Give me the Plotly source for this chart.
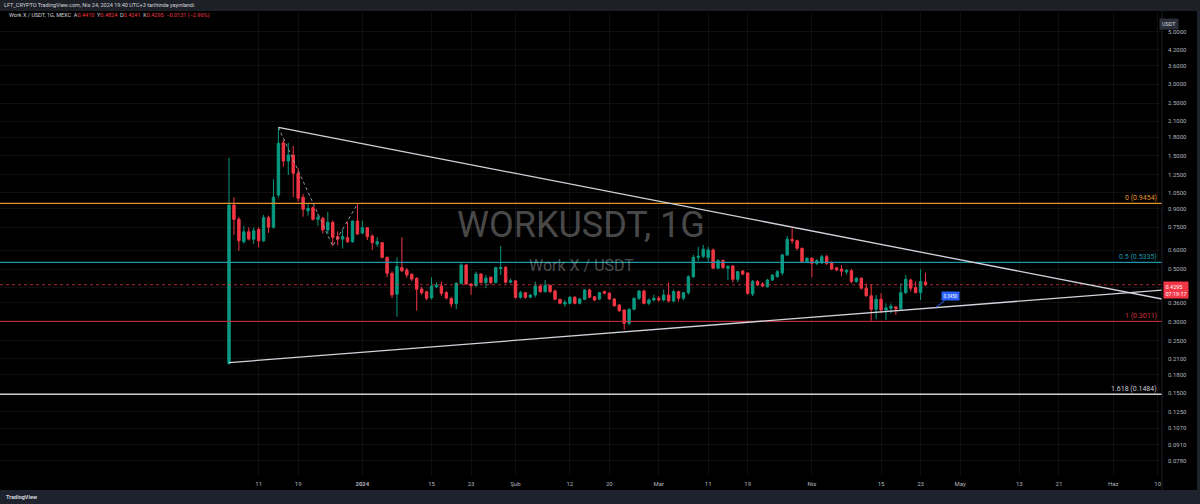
import numpy as np
import pandas as pd
import plotly.graph_objects as go

# ---------------- data ----------------
dates = pd.date_range("2023-12-05", "2024-04-24", freq="D")

opens = [0.200, 0.931, 0.810, 0.652, 0.718, 0.667, 0.735, 0.658, 0.823, 0.750,
         1.025, 1.700, 1.426, 1.512, 1.266, 1.003, 0.880, 0.907, 0.810, 0.818,
         0.730, 0.787, 0.685, 0.669, 0.678, 0.652, 0.797, 0.710, 0.747, 0.689,
         0.637, 0.646, 0.560, 0.480, 0.392,
         0.507, 0.4955, 0.475, 0.457, 0.412, 0.401, 0.378, 0.421, 0.4243, 0.398,
         0.3766, 0.358, 0.4355, 0.520, 0.4325, 0.4255, 0.4765, 0.4384, 0.462, 0.4384,
         0.502, 0.508, 0.4402, 0.446, 0.3802, 0.3977, 0.3802, 0.3888, 0.4243, 0.4017,
         0.4272, 0.404, 0.3729, 0.3563, 0.3587, 0.3802, 0.3587, 0.3729, 0.408, 0.3823,
         0.374, 0.4017, 0.3955, 0.374, 0.3529, 0.3362, 0.2953, 0.3385, 0.3766, 0.404,
         0.3587, 0.3704, 0.3766, 0.3704, 0.3888, 0.3668, 0.4017, 0.3766, 0.3977, 0.4643,
         0.560, 0.566, 0.560, 0.602, 0.504, 0.5425, 0.504, 0.515, 0.4527, 0.4908,
         0.4811, 0.3925, 0.443, 0.4326, 0.4214, 0.4497, 0.4643, 0.4818, 0.573, 0.6675,
         0.6585, 0.6115, 0.5375, 0.555, 0.5285, 0.5315, 0.5635, 0.5315, 0.5065, 0.500,
         0.486, 0.4918, 0.443, 0.4575, 0.4155, 0.386, 0.3385, 0.3729, 0.3362, 0.3419,
         0.3463, 0.340, 0.3977, 0.4497, 0.4175, 0.3977, 0.4410]

highs = [1.470, 1.003, 0.830, 0.759, 0.750, 0.750, 0.750, 0.845, 0.840, 1.194,
         1.977, 1.750, 1.700, 1.650, 1.330, 1.035, 0.940, 0.920, 0.858, 0.830,
         0.872, 0.800, 0.720, 0.735, 0.790, 0.800, 0.940, 0.800, 0.750, 0.700,
         0.680, 0.650, 0.565, 0.490, 0.560,
         0.680, 0.505, 0.480, 0.462, 0.420, 0.405, 0.4616, 0.440, 0.443, 0.403,
         0.380, 0.440, 0.529, 0.525, 0.435, 0.488, 0.480, 0.472, 0.465, 0.512,
         0.625, 0.515, 0.455, 0.450, 0.405, 0.400, 0.392, 0.443, 0.430, 0.4497,
         0.430, 0.410, 0.375, 0.3704, 0.385, 0.385, 0.378, 0.412, 0.413, 0.385,
         0.400, 0.406, 0.400, 0.377, 0.356, 0.338, 0.342, 0.380, 0.408, 0.410,
         0.376, 0.390, 0.385, 0.410, 0.440, 0.410, 0.405, 0.400, 0.470, 0.575,
         0.620, 0.632, 0.620, 0.610, 0.550, 0.550, 0.520, 0.520, 0.490, 0.495,
         0.485, 0.450, 0.450, 0.440, 0.455, 0.475, 0.495, 0.580, 0.690, 0.742,
         0.665, 0.615, 0.560, 0.560, 0.550, 0.575, 0.575, 0.540, 0.510, 0.520,
         0.500, 0.500, 0.462, 0.460, 0.435, 0.4326, 0.3888, 0.3955, 0.358, 0.358,
         0.350, 0.4355, 0.472, 0.455, 0.443, 0.4985, 0.4824]

lows = [0.198, 0.696, 0.598, 0.640, 0.660, 0.638, 0.617, 0.650, 0.710, 0.740,
        1.000, 1.350, 1.245, 1.003, 0.960, 0.831, 0.840, 0.800, 0.760, 0.707,
        0.700, 0.625, 0.630, 0.610, 0.645, 0.645, 0.700, 0.700, 0.662, 0.601,
        0.620, 0.555, 0.462, 0.377, 0.315,
        0.485, 0.460, 0.445, 0.334, 0.390, 0.370, 0.372, 0.415, 0.385, 0.372,
        0.345, 0.339, 0.430, 0.4284, 0.389, 0.4214, 0.435, 0.415, 0.430, 0.435,
        0.472, 0.435, 0.435, 0.375, 0.375, 0.375, 0.377, 0.380, 0.398, 0.398,
        0.397, 0.370, 0.355, 0.347, 0.355, 0.355, 0.355, 0.370, 0.377, 0.366,
        0.370, 0.392, 0.370, 0.347, 0.330, 0.2769, 0.290, 0.335, 0.370, 0.355,
        0.352, 0.365, 0.365, 0.365, 0.362, 0.362, 0.365, 0.370, 0.390, 0.458,
        0.540, 0.555, 0.537, 0.500, 0.500, 0.500, 0.450, 0.440, 0.440, 0.470,
        0.390, 0.385, 0.425, 0.420, 0.418, 0.445, 0.460, 0.470, 0.570, 0.640,
        0.600, 0.530, 0.530, 0.462, 0.520, 0.525, 0.520, 0.495, 0.490, 0.467,
        0.475, 0.435, 0.438, 0.410, 0.382, 0.3029, 0.3072, 0.326, 0.3051, 0.326,
        0.3202, 0.335, 0.393, 0.4017, 0.3955, 0.3704, 0.4241]

closes = [0.931, 0.810, 0.658, 0.718, 0.669, 0.725, 0.658, 0.823, 0.750, 1.003,
          1.693, 1.426, 1.512, 1.266, 0.993, 0.893, 0.900, 0.810, 0.826, 0.730,
          0.787, 0.680, 0.669, 0.685, 0.652, 0.797, 0.702, 0.747, 0.684, 0.646,
          0.652, 0.560, 0.480, 0.389, 0.512,
          0.492, 0.472, 0.454, 0.411, 0.397, 0.3766, 0.4245, 0.4284, 0.3951, 0.3775,
          0.3563, 0.4355, 0.520, 0.4325, 0.4255, 0.4765, 0.4384, 0.4575, 0.4384, 0.507,
          0.508, 0.4402, 0.446, 0.3802, 0.3977, 0.3802, 0.3888, 0.4243, 0.4017, 0.4272,
          0.4017, 0.3729, 0.3587, 0.3624, 0.3802, 0.3587, 0.374, 0.408, 0.3802, 0.3704,
          0.3977, 0.3955, 0.374, 0.3505, 0.3341, 0.2953, 0.3385, 0.3766, 0.404, 0.3587,
          0.3704, 0.3766, 0.3704, 0.3888, 0.3668, 0.4017, 0.3766, 0.3977, 0.4643, 0.560,
          0.566, 0.606, 0.602, 0.504, 0.5425, 0.508, 0.512, 0.4527, 0.4878, 0.4765,
          0.3951, 0.443, 0.4284, 0.4243, 0.4497, 0.472, 0.4878, 0.573, 0.6675, 0.6585,
          0.6115, 0.5375, 0.555, 0.5285, 0.5425, 0.5635, 0.5285, 0.5005, 0.4955, 0.490,
          0.494, 0.443, 0.4575, 0.4155, 0.386, 0.3385, 0.3729, 0.3362, 0.343, 0.3485,
          0.340, 0.3977, 0.4527, 0.4155, 0.3977, 0.443, 0.4295]

# Fibonacci levels
fib_ratios = ["0", "0.5", "1", "1.618"]
fib_prices = [0.9454, 0.5335, 0.3011, 0.1484]
fib_colors = ["#e3952b", "#1b98a8", "#d2323e", "#c9cbd1"]
fib_widths = [1.1, 1.1, 1, 1.6]

# trend lines (extended to the right edge)
upper_x = ["2023-12-15", "2024-06-10 21:00"]
upper_y = [1.977, 0.374]
lower_x = ["2023-12-05", "2024-06-10 21:00"]
lower_y = [0.2017, 0.408]

# dotted zig-zag
zig_x = ["2023-12-15", "2023-12-26", "2023-12-31"]
zig_y = [1.977, 0.625, 0.94]

last_price = 0.4295
marker_label = "0.3450"
marker_x = "2024-04-26 02:00"
marker_y = 0.3450

x_start, x_end = "2023-10-19 15:20", "2024-06-10 21:00"

tick_dates = ["2023-12-11", "2023-12-19", "2024-01-01", "2024-01-15", "2024-01-23",
              "2024-02-01", "2024-02-12", "2024-02-20", "2024-03-01", "2024-03-11",
              "2024-03-19", "2024-04-01", "2024-04-15", "2024-04-23", "2024-05-01",
              "2024-05-13", "2024-05-21", "2024-06-01", "2024-06-10"]
tick_labels = ["11", "19", "<b>2024</b>", "15", "23", "Şub", "12", "20", "Mar", "11",
               "19", "Nis", "15", "23", "May", "13", "21", "Haz", "10"]

price_ticks = [5.0, 4.2, 3.6, 3.0, 2.5, 2.1, 1.8, 1.5, 1.25, 1.05, 0.9, 0.75, 0.6,
               0.5, 0.42, 0.36, 0.3, 0.25, 0.21, 0.18, 0.15, 0.125, 0.107, 0.091, 0.078]
price_labels = ["" if v == 0.42 else f"{v:.4f}" for v in price_ticks]

# ---------------- figure ----------------
W, H = 1200, 504
ML, MR, MT, MB = 0, 38, 12, 28
PW, PH = W - ML - MR, H - MT - MB


def px_x(px):
    return (px - ML) / PW


def px_y(py):
    return (H - MB - py) / PH


FONT = "Roboto"
GRID = "rgba(255,255,255,0.055)"
AXIS_TXT = "#b2b5be"

fig = go.Figure()

for r, p, c, w in zip(fib_ratios, fib_prices, fib_colors, fib_widths):
    fig.add_trace(go.Scatter(x=[x_start, x_end], y=[p, p], mode="lines",
                             line=dict(color=c, width=w), hoverinfo="skip",
                             showlegend=False))

fig.add_trace(go.Scatter(x=[x_start, x_end], y=[last_price, last_price], mode="lines",
                         line=dict(color="rgba(242,54,69,0.7)", width=1, dash="dot"),
                         hoverinfo="skip", showlegend=False))

fig.add_trace(go.Candlestick(
    x=dates, open=opens, high=highs, low=lows, close=closes,
    increasing=dict(line=dict(color="#089981", width=1), fillcolor="#089981"),
    decreasing=dict(line=dict(color="#f23645", width=1), fillcolor="#f23645"),
    whiskerwidth=0, hoverinfo="skip", showlegend=False))

fig.add_trace(go.Scatter(x=upper_x, y=upper_y, mode="lines",
                         line=dict(color="#d1d4dc", width=1.3), hoverinfo="skip",
                         showlegend=False))
fig.add_trace(go.Scatter(x=lower_x, y=lower_y, mode="lines",
                         line=dict(color="#d1d4dc", width=1.3), hoverinfo="skip",
                         showlegend=False))
fig.add_trace(go.Scatter(x=zig_x, y=zig_y, mode="lines",
                         line=dict(color="#9598a1", width=1, dash="dot"),
                         hoverinfo="skip", showlegend=False))

ann = []
# fib labels
for r, p, c in zip(fib_ratios, fib_prices, fib_colors):
    ann.append(dict(x=px_x(1159), xref="paper", y=np.log10(p), yref="y",
                    text=f"{r} ({p:.4f})", showarrow=False, xanchor="right",
                    yanchor="bottom", yshift=-1,
                    font=dict(family=FONT, size=7, color=c)))

# watermark
ann.append(dict(x=0.5, xref="paper", y=px_y(225), yref="paper", text="WORKUSDT, 1G",
                showarrow=False, font=dict(family=FONT, size=36,
                                           color="rgba(255,255,255,0.30)")))
ann.append(dict(x=0.5, xref="paper", y=px_y(265), yref="paper", text="Work X / USDT",
                showarrow=False, font=dict(family=FONT, size=16,
                                           color="rgba(255,255,255,0.30)")))

# header lines
ann.append(dict(x=px_x(2), xref="paper", y=px_y(5.5), yref="paper", xanchor="left",
                yanchor="middle", showarrow=False,
                text="LFT_CRYPTO TradingView.com, Nis 24, 2024 19:40 UTC+3 tarihinde yayınlandı",
                font=dict(family=FONT, size=5.5, color="#d1d4dc")))
red = "#f23645"
hdr2 = ("Work X / USDT, 1G, MEXC&nbsp;&nbsp;"
        f"A<span style='color:{red}'>0.4410</span>&nbsp;&nbsp;"
        f"Y<span style='color:{red}'>0.4824</span>&nbsp;&nbsp;"
        f"D<span style='color:{red}'>0.4241</span>&nbsp;&nbsp;"
        f"K<span style='color:{red}'>0.4295</span>&nbsp;&nbsp;"
        f"<span style='color:{red}'>−0.0131 (−2.96%)</span>")
ann.append(dict(x=px_x(7), xref="paper", y=px_y(16), yref="paper", xanchor="left",
                yanchor="middle", showarrow=False, text=hdr2,
                font=dict(family=FONT, size=5.5, color="#d1d4dc")))

# USDT box
ann.append(dict(x=px_x(1179), xref="paper", y=px_y(17.5), yref="paper",
                text="USDT", showarrow=False, bgcolor="#2a2e39", borderpad=2,
                font=dict(family=FONT, size=5.5, color="#d1d4dc")))

# last price box
ann.append(dict(x=px_x(1163), xref="paper", y=np.log10(last_price), yref="y",
                xanchor="left", yanchor="top", yshift=4, showarrow=False,
                text="0.4295<br>07:19:17", align="left", bgcolor=red, borderpad=1.5,
                font=dict(family=FONT, size=5.5, color="#ffffff")))

# price marker
ann.append(dict(x=marker_x, xref="x", y=np.log10(marker_y), yref="y",
                text=marker_label, showarrow=True, arrowhead=0, arrowwidth=1,
                arrowcolor="#2962ff", ax=15, ay=-11, bgcolor="#2962ff",
                borderpad=1.5, font=dict(family=FONT, size=4.5, color="#ffffff")))

# TradingView footer
ann.append(dict(x=px_x(4), xref="paper", y=px_y(497), yref="paper", xanchor="left",
                yanchor="middle", showarrow=False, text="<b>TradingView</b>",
                font=dict(family=FONT, size=5.5, color="#d1d4dc")))

shapes = [
    dict(type="rect", xref="paper", yref="paper", x0=-0.01, x1=W / PW + 0.01,
         y0=px_y(11), y1=px_y(-2), fillcolor="#1e2027", line=dict(width=0),
         layer="above"),
    dict(type="rect", xref="paper", yref="paper", x0=-0.01, x1=W / PW + 0.01,
         y0=px_y(506), y1=px_y(490), fillcolor="#1e222d", line=dict(width=0),
         layer="above"),
    dict(type="rect", xref="paper", yref="paper", x0=px_x(1197), x1=W / PW + 0.01,
         y0=px_y(490), y1=px_y(11), fillcolor="#1e222d", line=dict(width=0),
         layer="above"),
    dict(type="line", xref="paper", yref="paper", x0=1, x1=1,
         y0=px_y(490), y1=px_y(11), line=dict(color="#1c1f27", width=1)),
]

fig.update_layout(
    width=W, height=H,
    margin=dict(l=ML, r=MR, t=MT, b=MB, autoexpand=False),
    paper_bgcolor="#000000", plot_bgcolor="#000000",
    showlegend=False, hovermode=False,
    annotations=ann, shapes=shapes,
    font=dict(family=FONT),
    xaxis=dict(type="date", range=[x_start, x_end], tickmode="array",
               tickvals=tick_dates, ticktext=tick_labels, showgrid=True,
               gridcolor=GRID, gridwidth=1, zeroline=False, showline=False,
               ticks="", ticklabelstandoff=3, automargin=False,
               tickfont=dict(family=FONT, size=6, color=AXIS_TXT),
               rangeslider=dict(visible=False), fixedrange=True),
    yaxis=dict(type="log", side="right", range=[-1.1727, 0.7818], tickmode="array",
               tickvals=price_ticks, ticktext=price_labels, showgrid=True,
               gridcolor=GRID, gridwidth=1, zeroline=False, showline=False,
               ticks="", ticklabelstandoff=5, automargin=False,
               tickfont=dict(family=FONT, size=6, color=AXIS_TXT), fixedrange=True),
)

fig.write_html("out.html", config={"displayModeBar": False},
               post_script="document.body.style.margin='0';document.body.style.background='#000';")
